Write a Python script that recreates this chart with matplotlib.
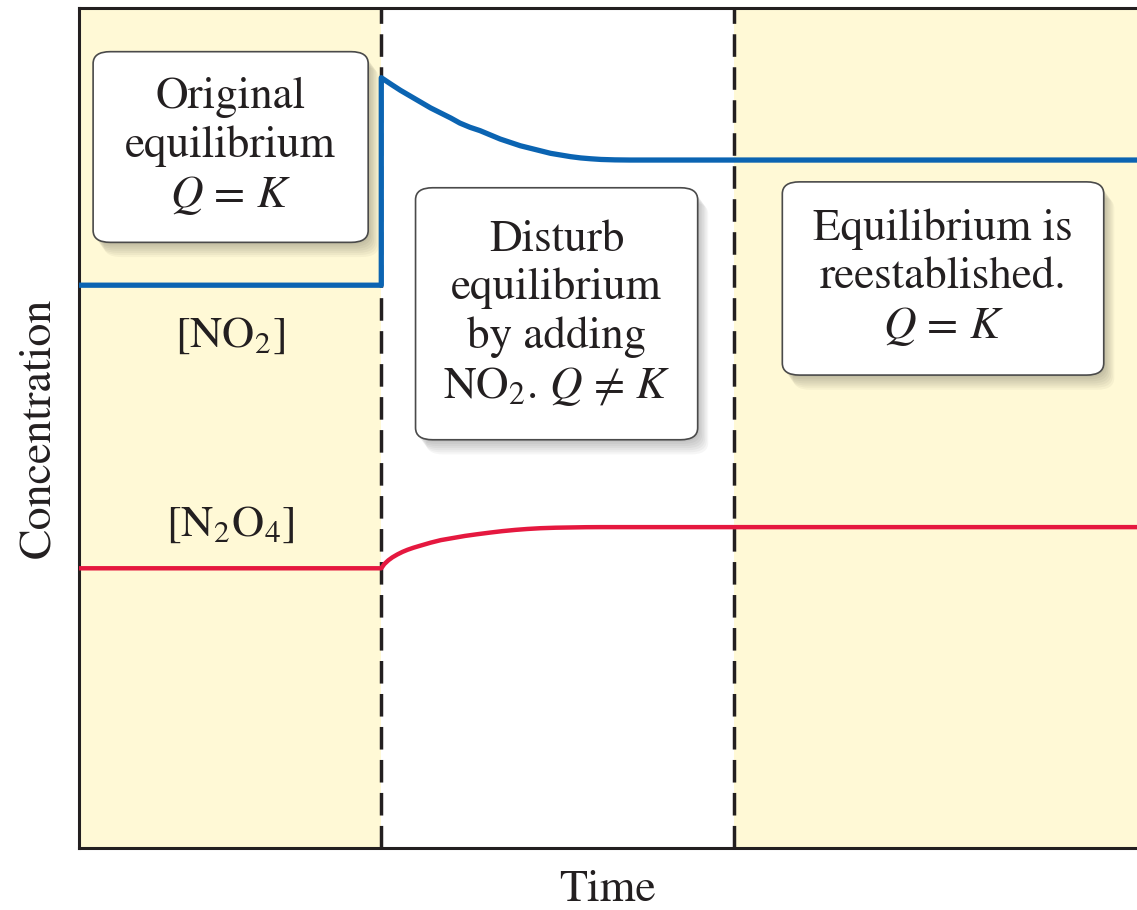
import matplotlib
matplotlib.use('Agg')
import matplotlib.pyplot as plt
from matplotlib.patches import FancyBboxPatch

plt.rcParams['font.family'] = 'STIXGeneral'
plt.rcParams['mathtext.fontset'] = 'stix'

# periods (time units)
t_disturb = 3.0
t_reestablished = 6.5
t_end = 10.5

# [NO2]
no2_t = [0, 3.0, 3.0, 3.10, 3.19, 3.29, 3.39, 3.49, 3.59, 3.69, 3.78, 3.88, 3.98, 4.08,
         4.18, 4.28, 4.38, 4.48, 4.58, 4.68, 4.78, 4.88, 4.98, 5.08, 5.18, 5.32, 5.47, 10.5]
no2_c = [6.70, 6.70, 9.17, 9.09, 9.02, 8.95, 8.88, 8.81, 8.75, 8.69, 8.63, 8.58, 8.54, 8.49,
         8.44, 8.40, 8.36, 8.33, 8.30, 8.27, 8.25, 8.23, 8.215, 8.205, 8.197, 8.192, 8.19, 8.19]

# [N2O4]
n2o4_t = [0, 3.0, 3.03, 3.07, 3.11, 3.16, 3.21, 3.26, 3.32, 3.39, 3.49, 3.59, 3.71, 3.83,
          3.95, 4.08, 4.20, 4.33, 4.45, 4.58, 4.73, 4.88, 5.03, 5.18, 10.5]
n2o4_c = [3.33, 3.33, 3.38, 3.425, 3.46, 3.495, 3.525, 3.55, 3.575, 3.60, 3.635, 3.665, 3.69, 3.715,
          3.735, 3.755, 3.772, 3.787, 3.798, 3.807, 3.813, 3.816, 3.819, 3.82, 3.82]

box_texts = ['Original\nequilibrium\n$Q$ = $K$',
             'Disturb\nequilibrium\nby adding\nNO$_2$. $Q$ \u2260 $K$',
             'Equilibrium is\nreestablished.\n$Q$ = $K$']

yellow = '#FFF9D6'
blue = '#0B64B2'
red = '#E5183F'
ink = '#231F20'

fig = plt.figure(figsize=(11.37, 9.10), dpi=100)
ax = fig.add_axes([79 / 1137, 62 / 910, 1058 / 1137, 840 / 910])
ax.set_xlim(0, t_end)
ax.set_ylim(0, 10)

ax.axvspan(0, t_disturb, color=yellow, lw=0, zorder=0)
ax.axvspan(t_reestablished, t_end, color=yellow, lw=0, zorder=0)
for t in [t_disturb, t_reestablished]:
    ax.axvline(t, color=ink, lw=2.5, dashes=(6.5, 3.0), zorder=1)

ax.plot(no2_t, no2_c, color=blue, lw=3.8, solid_joinstyle='round', zorder=3)
ax.plot(n2o4_t, n2o4_c, color=red, lw=3.2, solid_joinstyle='round', zorder=3)

ax.text(1.5, 6.1, '[NO$_2$]', ha='center', va='center', fontsize=32, color=ink)
ax.text(1.5, 3.85, '[N$_2$O$_4$]', ha='center', va='center', fontsize=32, color=ink)

# boxes: (x0, y0, w, h) in data units
aspect = 100.67 / 84
boxes = [(0.14, 7.21, 2.73, 2.27),
         (3.34, 4.86, 2.80, 3.00),
         (6.98, 5.63, 3.19, 2.30)]
for (x0, y0, w, h), txt in zip(boxes, box_texts):
    for k in range(1, 8):
        sh = FancyBboxPatch((x0 + 0.015 * k, y0 - 0.025 * k), w, h,
                            boxstyle='round,pad=0,rounding_size=0.17',
                            mutation_aspect=1 / aspect, fc='black', ec='none',
                            alpha=0.035, zorder=4)
        ax.add_patch(sh)
    box = FancyBboxPatch((x0, y0), w, h, boxstyle='round,pad=0,rounding_size=0.17',
                         mutation_aspect=1 / aspect, fc='white', ec='#4a4a4a',
                         lw=1.2, zorder=5)
    ax.add_patch(box)
    ax.text(x0 + w / 2, y0 + h / 2, txt, ha='center', va='center', fontsize=32.5,
            color=ink, linespacing=1.22, zorder=6)

ax.set_xticks([])
ax.set_yticks([])
ax.spines['right'].set_visible(False)
for s in ['left', 'bottom', 'top']:
    ax.spines[s].set_linewidth(2.2)
    ax.spines[s].set_color(ink)

ax.set_xlabel('Time', fontsize=33, color=ink, labelpad=16)
ax.set_ylabel('Concentration', fontsize=33, color=ink, labelpad=14)

fig.savefig('out.png', dpi=100)
